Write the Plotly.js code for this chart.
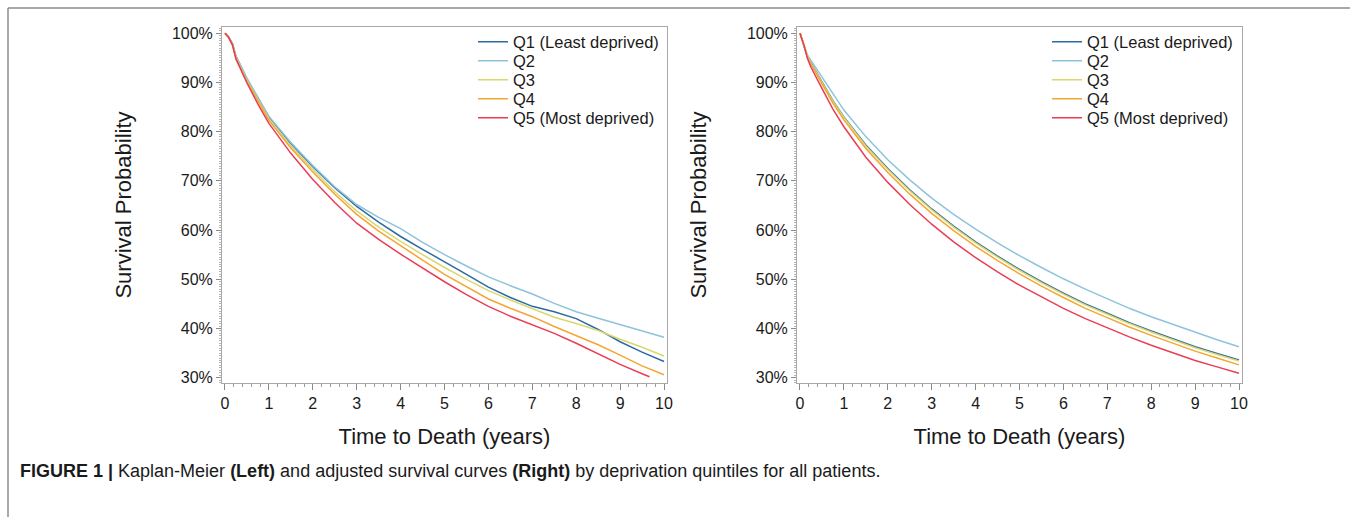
<!DOCTYPE html>
<html>
<head>
<meta charset="utf-8">
<script src="https://cdn.plot.ly/plotly-3.0.1.min.js"></script>
<style>
  html, body { margin: 0; padding: 0; background: #ffffff; }
  #chart { width: 1357px; height: 517px; }
</style>
</head>
<body>
<div id="chart"></div>
<script>
// ---- Data ----
const seriesNames = ['Q1 (Least deprived)', 'Q2', 'Q3', 'Q4', 'Q5 (Most deprived)'];
const seriesColors = ['#2d6aa3', '#8dc3dd', '#d9d86c', '#f4a534', '#ea3d55'];

const years = [0, 0.08, 0.17, 0.25, 0.5, 0.75, 1, 1.5, 2, 2.5, 3, 3.5, 4, 4.5, 5, 5.5, 6, 6.5, 7, 7.5, 8, 8.5, 9, 9.5, 10];
const yearsQ5Left = [0, 0.08, 0.17, 0.25, 0.5, 0.75, 1, 1.5, 2, 2.5, 3, 3.5, 4, 4.5, 5, 5.5, 6, 6.5, 7, 7.5, 8, 8.5, 9, 9.5, 9.67];

// Left panel: Kaplan-Meier survival (%)
const kmQ1 = [100, 99.3, 97.9, 95.3, 90.7, 86.7, 83.0, 77.6, 72.9, 68.6, 64.8, 61.6, 58.7, 56.1, 53.6, 51.0, 48.4, 46.3, 44.5, 43.4, 42.0, 39.8, 37.3, 35.2, 33.3];
const kmQ2 = [100, 99.3, 97.9, 95.4, 90.9, 86.9, 83.1, 77.8, 73.1, 68.8, 65.2, 62.6, 60.3, 57.5, 55.0, 52.7, 50.5, 48.7, 47.0, 45.1, 43.4, 42.1, 40.8, 39.5, 38.2];
const kmQ3 = [100, 99.2, 97.7, 95.0, 90.4, 86.4, 82.6, 77.1, 72.3, 67.8, 63.9, 60.6, 57.7, 55.0, 52.4, 50.0, 47.7, 45.8, 44.0, 42.3, 41.0, 39.6, 37.8, 36.2, 34.4];
const kmQ4 = [100, 99.2, 97.7, 94.9, 90.2, 86.1, 82.3, 76.7, 71.8, 67.3, 63.2, 59.8, 56.8, 53.9, 51.0, 48.5, 46.0, 44.1, 42.4, 40.4, 38.6, 36.7, 34.6, 32.4, 30.6];
const kmQ5 = [100, 99.2, 97.6, 94.8, 89.9, 85.6, 81.7, 75.6, 70.3, 65.6, 61.4, 58.1, 55.1, 52.3, 49.5, 46.9, 44.5, 42.5, 40.7, 39.0, 37.0, 34.8, 32.7, 30.8, 30.2];

// Right panel: adjusted survival (%)
const adjQ1 = [100, 97.9, 95.3, 94.0, 90.2, 86.3, 83.0, 77.3, 72.5, 68.2, 64.3, 60.8, 57.6, 54.7, 52.0, 49.5, 47.2, 45.0, 43.1, 41.2, 39.5, 37.9, 36.3, 34.9, 33.6];
const adjQ2 = [100, 98.0, 95.6, 94.5, 91.1, 87.6, 84.4, 79.0, 74.3, 70.2, 66.5, 63.2, 60.2, 57.4, 54.8, 52.4, 50.1, 48.0, 46.0, 44.1, 42.4, 40.8, 39.2, 37.7, 36.3];
const adjQ3 = [100, 97.9, 95.3, 93.9, 90.1, 86.2, 82.9, 77.1, 72.3, 68.0, 64.1, 60.6, 57.4, 54.5, 51.8, 49.3, 47.0, 44.8, 42.9, 41.0, 39.3, 37.7, 36.1, 34.7, 33.4];
const adjQ4 = [100, 97.9, 95.1, 93.7, 89.8, 85.8, 82.4, 76.6, 71.7, 67.3, 63.4, 59.9, 56.7, 53.8, 51.1, 48.6, 46.3, 44.1, 42.2, 40.3, 38.6, 37.0, 35.4, 34.0, 32.6];
const adjQ5 = [100, 97.9, 94.9, 93.1, 88.8, 84.6, 81.0, 74.8, 69.7, 65.2, 61.2, 57.6, 54.4, 51.5, 48.8, 46.4, 44.1, 42.0, 40.1, 38.3, 36.6, 35.0, 33.5, 32.2, 30.9];

const xTickVals = [0, 1, 2, 3, 4, 5, 6, 7, 8, 9, 10];
const yTickVals = [30, 40, 50, 60, 70, 80, 90, 100];

// ---- Layout constants ----
const W = 1357, H = 517;
const FONT = '"Liberation Sans", Arial, Helvetica, sans-serif';
const LEG_FIRST_Y = 42, LEG_STEP = 19;       // legend entry centres (px)
const LEG_X_LEFT = 473, LEG_X_RIGHT = 1047;  // legend left edges (px)

// ---- Traces (one legend per entry to get the tight SAS-style spacing) ----
const leftSeries = [[years, kmQ1], [years, kmQ2], [years, kmQ3], [years, kmQ4], [yearsQ5Left, kmQ5]];
const rightSeries = [[years, adjQ1], [years, adjQ2], [years, adjQ3], [years, adjQ4], [years, adjQ5]];

const traces = [];
const legendDefs = {};
function legendId(n) { return n === 1 ? 'legend' : 'legend' + n; }
function addLegend(n, xPx, i) {
  legendDefs[legendId(n)] = {
    x: xPx / W, xanchor: 'left',
    y: 1 - (LEG_FIRST_Y + LEG_STEP * i) / H, yanchor: 'middle',
    bgcolor: 'rgba(0,0,0,0)', borderwidth: 0, itemwidth: 30,
    font: { family: FONT, size: 16.5, color: '#1a1a1a' }
  };
}
leftSeries.forEach((s, i) => {
  const n = 1 + i;
  addLegend(n, LEG_X_LEFT, i);
  traces.push({
    type: 'scatter', mode: 'lines', x: s[0], y: s[1], name: seriesNames[i],
    line: { color: seriesColors[i], width: 1.5, shape: 'linear' },
    xaxis: 'x', yaxis: 'y', legend: legendId(n), hoverinfo: 'skip'
  });
});
rightSeries.forEach((s, i) => {
  const n = 6 + i;
  addLegend(n, LEG_X_RIGHT, i);
  traces.push({
    type: 'scatter', mode: 'lines', x: s[0], y: s[1], name: seriesNames[i],
    line: { color: seriesColors[i], width: 1.5, shape: 'linear' },
    xaxis: 'x2', yaxis: 'y2', legend: legendId(n), hoverinfo: 'skip'
  });
});

function xAxis(domain, anchor) {
  return {
    domain: domain, anchor: anchor, range: [-0.068, 10.068],
    tickmode: 'array', tickvals: xTickVals, ticktext: xTickVals.map(String),
    ticks: 'outside', ticklen: 6, tickwidth: 1, tickcolor: '#8a8a8a',
    showline: true, linecolor: '#a9a9a9', linewidth: 1, mirror: true,
    showgrid: false, zeroline: false,
    minor: { dtick: 0.2, tick0: 0, ticks: 'outside', ticklen: 3, tickcolor: '#9a9a9a', showgrid: false },
    tickfont: { family: FONT, size: 16, color: '#1a1a1a' },
    title: { text: 'Time to Death (years)', font: { family: FONT, size: 22, color: '#1a1a1a' }, standoff: 17 }
  };
}
function yAxis(domain, anchor) {
  return {
    domain: domain, anchor: anchor, range: [28.92, 101.28],
    tickmode: 'array', tickvals: yTickVals, ticktext: yTickVals.map(v => v + '%'),
    ticks: 'outside', ticklen: 5, tickwidth: 1, tickcolor: '#8a8a8a',
    showline: true, linecolor: '#a9a9a9', linewidth: 1, mirror: true,
    showgrid: false, zeroline: false,
    minor: { dtick: 0.5, tick0: 0, ticks: 'outside', ticklen: 2, tickcolor: '#b5b5b5', showgrid: false },
    tickfont: { family: FONT, size: 16, color: '#1a1a1a' },
    title: { text: 'Survival Probability', font: { family: FONT, size: 22, color: '#1a1a1a' }, standoff: 34 }
  };
}

const yDom = [1 - 383 / H, 1 - 27 / H];

const layout = Object.assign({
  width: W, height: H,
  margin: { l: 0, r: 0, t: 0, b: 0 },
  paper_bgcolor: '#ffffff', plot_bgcolor: '#ffffff',
  font: { family: FONT, color: '#1a1a1a' },
  showlegend: true,
  xaxis: xAxis([222 / W, 667 / W], 'y'),
  yaxis: yAxis(yDom, 'x'),
  xaxis2: xAxis([797 / W, 1242 / W], 'y2'),
  yaxis2: yAxis(yDom, 'x2'),
  shapes: [
    { type: 'line', xref: 'paper', yref: 'paper', x0: 8 / W, x1: 1350 / W, y0: 1 - 8 / H, y1: 1 - 8 / H, line: { color: '#8c8c8c', width: 1.5 } },
    { type: 'line', xref: 'paper', yref: 'paper', x0: 8 / W, x1: 8 / W, y0: 1 - 8 / H, y1: 0, line: { color: '#8c8c8c', width: 1.5 } }
  ],
  annotations: [
    {
      xref: 'paper', yref: 'paper', x: 18 / W, y: 1 - 471 / H, xanchor: 'left', yanchor: 'middle',
      showarrow: false, align: 'left',
      text: '<b>FIGURE 1 |</b> Kaplan-Meier <b>(Left)</b> and adjusted survival curves <b>(Right)</b> by deprivation quintiles for all patients.',
      font: { family: FONT, size: 18, color: '#1a1a1a' }
    }
  ]
}, legendDefs);

Plotly.newPlot('chart', traces, layout, { staticPlot: true, displayModeBar: false });
</script>
</body>
</html>
